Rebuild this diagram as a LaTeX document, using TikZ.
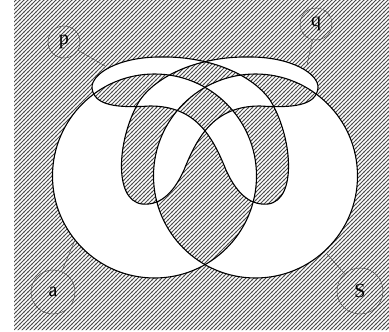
\documentclass[tikz,border=0pt]{standalone}
\usepackage{fontspec}
\setmainfont{Liberation Serif}
\usetikzlibrary{patterns}
\pgfdeclarepatternformonly{hatch}{\pgfqpoint{-1pt}{-1pt}}{\pgfqpoint{5pt}{5pt}}{\pgfqpoint{4pt}{4pt}}{%
  \pgfsetlinewidth{0.9pt}%
  \pgfpathmoveto{\pgfqpoint{-0.5pt}{-0.5pt}}%
  \pgfpathlineto{\pgfqpoint{4.5pt}{4.5pt}}%
  \pgfusepath{stroke}}
\tikzset{
  outline/.style={line width=1.1pt, black},
  lab/.style={circle, draw=black!70, line width=0.5pt, inner sep=0pt, font=\fontsize{20}{20}\selectfont},
  leader/.style={draw=black!70, line width=0.5pt},
}
\begin{document}
\begin{tikzpicture}[x=1pt, y=-1pt]
\useasboundingbox (0,0) rectangle (389,332);
% shapes
\def\circA{(154.5,176) circle[radius=102pt]}
\def\circS{(255.5,176) circle[radius=102pt]}
\def\loopP{(92,88) .. controls (91,74) and (118,57) .. (160,57)
  .. controls (205,56) and (250,72) .. (270,100)
  .. controls (292,135) and (298,200) .. (268,204)
  .. controls (248,206) and (235,190) .. (226,170)
  .. controls (212,135) and (195,106) .. (150,106)
  .. controls (118,108) and (94,106) .. (92,88) -- cycle}
\def\loopQ{(318,88) .. controls (319,74) and (292,57) .. (250,57)
  .. controls (205,56) and (160,72) .. (140,100)
  .. controls (118,135) and (112,200) .. (142,204)
  .. controls (162,206) and (175,190) .. (184,170)
  .. controls (198,135) and (215,106) .. (260,106)
  .. controls (292,108) and (316,106) .. (318,88) -- cycle}
\fill[pattern=hatch, pattern color=black!70, even odd rule]
  (14,0) rectangle (389,330) \circA \circS \loopP \loopQ;
\draw[outline] \circA;
\draw[outline] \circS;
\draw[outline] \loopP;
\draw[outline] \loopQ;
% labels
\node[lab, minimum size=32pt] (p) at (64,42) {p};
\node[lab, minimum size=32pt] (q) at (316,24) {q};
\node[lab, minimum size=44pt] (a) at (53,292) {a};
\node[lab, minimum size=46pt] (s) at (360,291) {S};
\coordinate (pend) at (105,66);
\coordinate (qend) at (307,65);
\coordinate (aend) at (75,240);
\coordinate (send) at (327,254);
\draw[leader] (p) -- (pend);
\draw[leader] (q) -- (qend);
\draw[leader] (a) -- (aend);
\draw[leader] (s) -- (send);
\end{tikzpicture}
\end{document}
